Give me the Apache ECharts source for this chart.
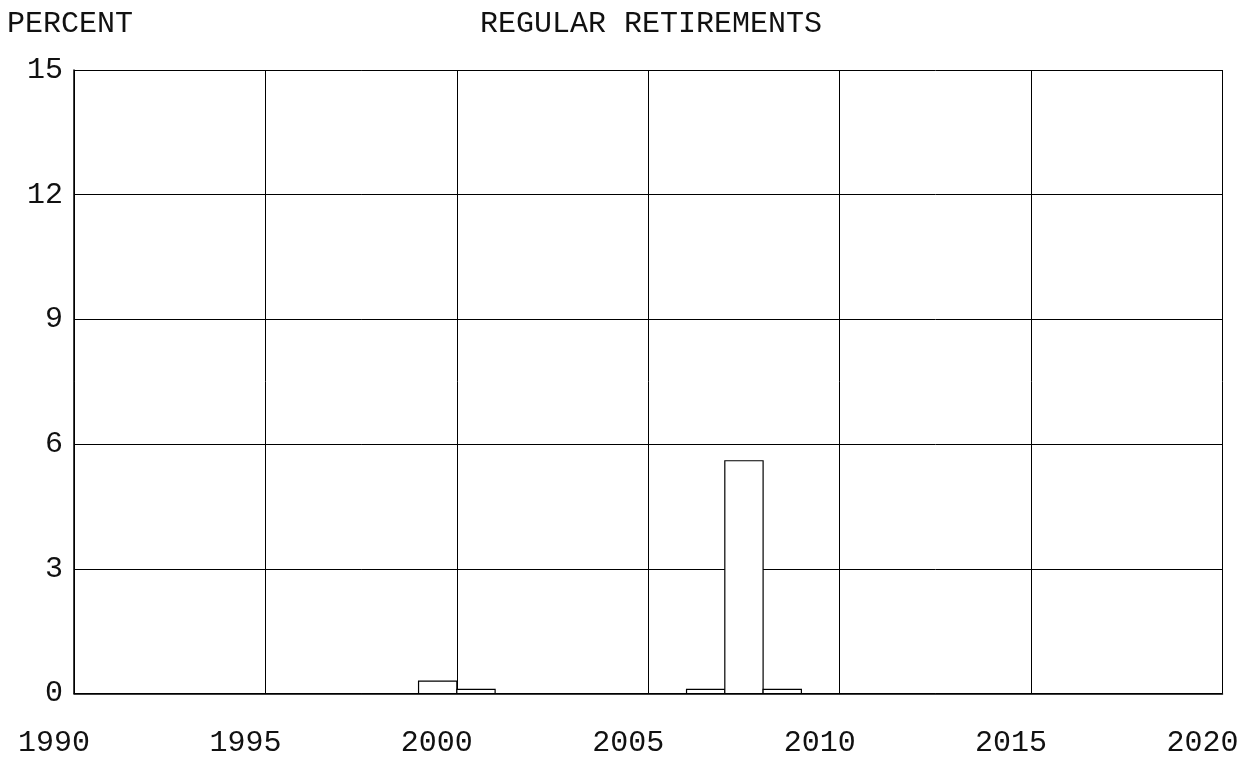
<!DOCTYPE html>
<html>
<head>
<meta charset="utf-8">
<script src="https://cdn.jsdelivr.net/npm/echarts@6/dist/echarts.min.js"></script>
<style>
html,body{margin:0;padding:0;background:#fff;}
#chart{width:1251px;height:760px;}
</style>
</head>
<body>
<div id="chart"></div>
<script>
// Data
const barYears = [2000, 2001, 2007, 2008, 2009];
const barValues = [0.3, 0.1, 0.1, 5.6, 0.1];
const yTicks = [0, 3, 6, 9, 12, 15];
const xTicks = [1990, 1995, 2000, 2005, 2010, 2015, 2020];
const titleText = 'REGULAR RETIREMENTS';
const yName = 'PERCENT';

const FONT = 'Liberation Mono';
const FS = 30;

const chart = echarts.init(document.getElementById('chart'), null, {renderer: 'canvas'});
const data = barYears.map((y, i) => [y, barValues[i]]);

chart.setOption({
  backgroundColor: '#fff',
  animation: false,
  title: {
    text: titleText,
    left: 646,
    textAlign: 'center',
    top: 4,
    textStyle: {fontFamily: FONT, fontSize: FS, fontWeight: 'normal', color: '#111'}
  },
  graphic: [{
    type: 'text',
    left: 7,
    top: 9,
    style: {text: yName, font: FS + 'px "' + FONT + '"', fill: '#111'}
  }],
  grid: {left: 74, right: 28.5, top: 70, bottom: 66.5, containLabel: false},
  xAxis: {
    type: 'value',
    min: xTicks[0],
    max: xTicks[xTicks.length - 1],
    interval: 5,
    axisLine: {show: true, onZero: false, lineStyle: {color: '#000', width: 1.5}},
    axisTick: {show: false},
    splitLine: {show: true, lineStyle: {color: '#000', width: 1}},
    axisLabel: {
      show: true,
      margin: 35,
      padding: [0, 40, 0, 0],
      fontFamily: FONT, fontSize: FS, color: '#111',
      formatter: v => String(v)
    }
  },
  yAxis: {
    type: 'value',
    min: yTicks[0],
    max: yTicks[yTicks.length - 1],
    interval: 3,
    axisLine: {show: true, lineStyle: {color: '#000', width: 1.5}},
    axisTick: {show: false},
    splitLine: {show: true, lineStyle: {color: '#000', width: 1}},
    axisLabel: {margin: 11, fontFamily: FONT, fontSize: FS, color: '#111'}
  },
  series: [{
    type: 'custom',
    data: data,
    renderItem: function (params, api) {
      const yr = api.value(0), v = api.value(1);
      const p0 = api.coord([yr - 1, 0]);
      const p1 = api.coord([yr, v]);
      return {
        type: 'rect',
        shape: {x: p0[0], y: p1[1], width: p1[0] - p0[0], height: p0[1] - p1[1]},
        style: {fill: '#fff', stroke: '#000', lineWidth: 1.2}
      };
    }
  }]
});
</script>
</body>
</html>
